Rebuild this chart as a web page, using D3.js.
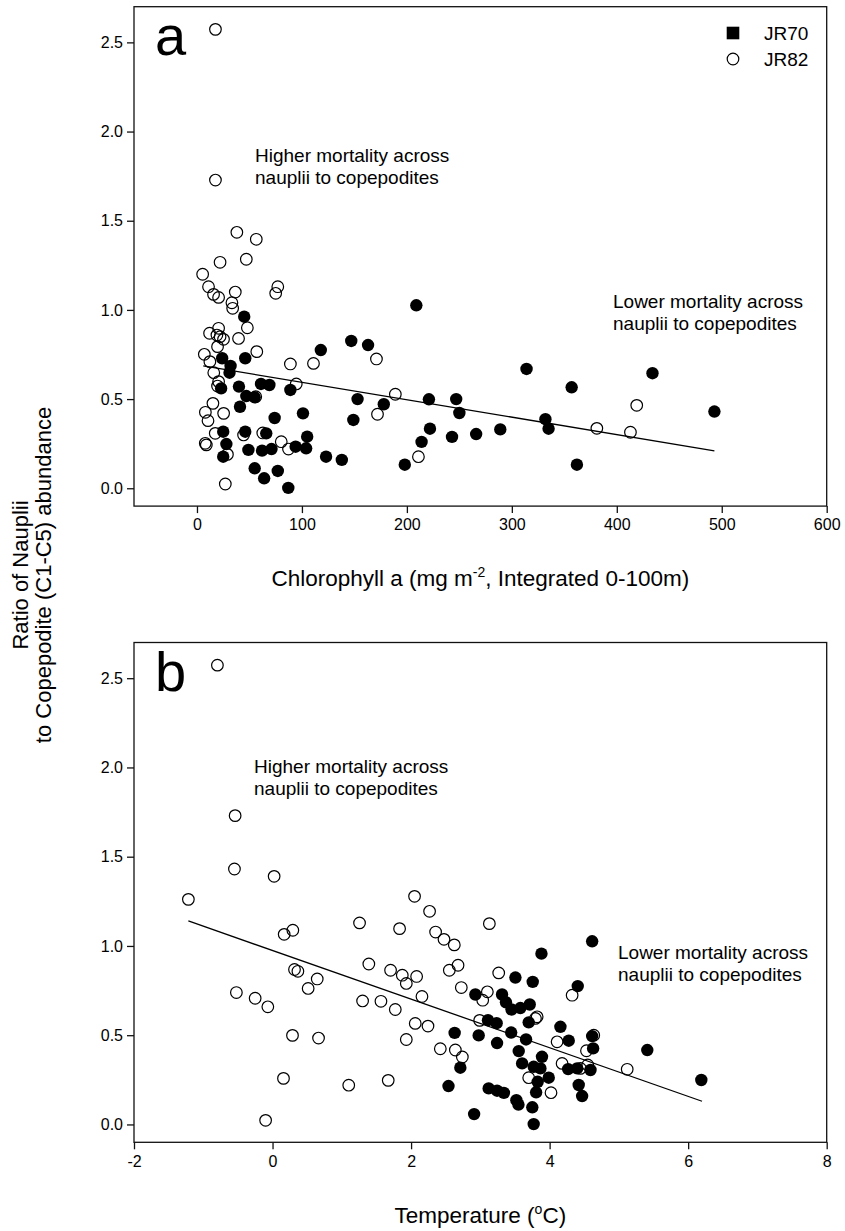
<!DOCTYPE html>
<html>
<head>
<meta charset="utf-8">
<script src="https://cdn.jsdelivr.net/npm/d3@7"></script>
<style>
  body { margin: 0; background: #fff; }
  svg text { font-family: "Liberation Sans", Arial, sans-serif; fill: #000; }
</style>
</head>
<body>
<div id="chart"></div>
<script>
// tick values
const chlTicks = [0, 100, 200, 300, 400, 500, 600];
const tempTicks = [-2, 0, 2, 4, 6, 8];
const ratioTicks = [0, 0.5, 1.0, 1.5, 2.0, 2.5];

// panel a: [chlorophyll a, ratio]
const jr70Chl = [
  [45, 0.962], [24, 0.729], [46, 0.729], [32, 0.686], [31, 0.648], [118, 0.775],
  [147, 0.826], [163, 0.803], [209, 1.026], [314, 0.669], [357, 0.566], [434, 0.645],
  [493, 0.43], [178, 0.471], [221, 0.499], [247, 0.50], [250, 0.422], [222, 0.334],
  [214, 0.26], [198, 0.132], [243, 0.288], [266, 0.304], [289, 0.33], [332, 0.387],
  [335, 0.334], [362, 0.132], [23, 0.56], [40, 0.57], [47, 0.517], [55, 0.51],
  [61, 0.585], [69, 0.579], [89, 0.551], [41, 0.457], [74, 0.394], [101, 0.42],
  [25, 0.317], [28, 0.248], [25, 0.177], [46, 0.317], [66, 0.308], [49, 0.215],
  [62, 0.211], [71, 0.22], [94, 0.233], [104, 0.224], [105, 0.289], [123, 0.177],
  [138, 0.159], [55, 0.112], [64, 0.056], [77, 0.097], [87, 0.002], [153, 0.50],
  [149, 0.383]
];
const jr82Chl = [
  [17.6, 2.573], [17.6, 1.728], [38, 1.435], [56.5, 1.396], [22, 1.267], [47, 1.284],
  [5.4, 1.20], [11, 1.13], [15.8, 1.087], [20.6, 1.07], [36.5, 1.10], [33.3, 1.04],
  [34, 1.009], [77, 1.13], [75, 1.093], [48, 0.90], [20.6, 0.897], [12, 0.869],
  [19, 0.859], [22, 0.85], [25.3, 0.835], [19.6, 0.794], [39.6, 0.84], [57, 0.766],
  [7, 0.751], [12.3, 0.71], [89, 0.697], [111, 0.70], [171, 0.725], [189, 0.527],
  [172, 0.415], [419, 0.465], [211, 0.177], [381, 0.336], [413, 0.314], [16, 0.648],
  [19.6, 0.573], [20.6, 0.598], [56, 0.513], [94.6, 0.585], [15.2, 0.476], [8, 0.426],
  [10.5, 0.379], [25.4, 0.42], [17.4, 0.308], [7.9, 0.252], [8.9, 0.243], [29, 0.19],
  [44.4, 0.299], [62.7, 0.31], [80.3, 0.261], [87.2, 0.22], [27, 0.024]
];
const chlFit = [[6, 0.686], [493, 0.21]];

// panel b: [temperature, ratio]
const jr70Temp = [
  [3.506, 0.823], [2.928, 0.728], [3.313, 0.728], [3.37, 0.684], [3.45, 0.644], [3.578, 0.652],
  [3.713, 0.672], [3.11, 0.584], [3.235, 0.567], [3.445, 0.515], [2.629, 0.513], [2.976, 0.499],
  [3.241, 0.456], [2.711, 0.318], [4.614, 1.026], [3.882, 0.957], [3.756, 0.799], [4.406, 0.775],
  [3.698, 0.572], [3.66, 0.476], [4.156, 0.547], [4.276, 0.469], [4.614, 0.495], [4.628, 0.426],
  [5.41, 0.417], [6.19, 0.249], [3.554, 0.411], [3.603, 0.342], [3.89, 0.379], [3.867, 0.314],
  [3.77, 0.323], [3.987, 0.262], [4.267, 0.31], [4.397, 0.314], [4.59, 0.305], [4.42, 0.221],
  [4.469, 0.159], [3.828, 0.239], [3.12, 0.202], [3.241, 0.189], [3.805, 0.18], [3.34, 0.177],
  [2.54, 0.215], [2.91, 0.058], [3.77, 0.002], [3.75, 0.096], [3.55, 0.111], [3.52, 0.136]
];
const jr82Temp = [
  [-0.796, 2.573], [-0.54, 1.73], [-0.55, 1.431], [0.023, 1.39], [-1.215, 1.261], [0.168, 1.065],
  [0.293, 1.088], [1.256, 1.129], [1.834, 1.097], [2.05, 1.278], [2.267, 1.194], [2.354, 1.078],
  [2.475, 1.037], [2.624, 1.006], [3.13, 1.125], [0.317, 0.868], [0.366, 0.858], [0.645, 0.815],
  [0.514, 0.762], [1.39, 0.899], [1.704, 0.864], [1.873, 0.836], [1.931, 0.79], [2.08, 0.829],
  [2.552, 0.864], [2.678, 0.892], [2.725, 0.767], [2.157, 0.717], [3.265, 0.849], [3.101, 0.743],
  [3.034, 0.696], [-0.522, 0.739], [-0.251, 0.707], [-0.068, 0.659], [1.3, 0.692], [1.565, 0.69],
  [1.772, 0.644], [2.06, 0.566], [2.244, 0.551], [2.99, 0.583], [0.288, 0.499], [0.664, 0.484],
  [1.931, 0.476], [2.422, 0.424], [2.639, 0.417], [2.74, 0.378], [0.158, 0.258], [1.1, 0.22],
  [1.67, 0.247], [-0.1, 0.023], [4.325, 0.724], [3.795, 0.594], [3.82, 0.603], [4.108, 0.463],
  [4.637, 0.5], [4.532, 0.413], [5.12, 0.309], [4.18, 0.342], [4.445, 0.314], [4.55, 0.333],
  [3.698, 0.262], [4.02, 0.178]
];
const tempFit = [[-1.215, 1.14], [6.2, 0.13]];

const W = 845, H = 1231;
const left = 134, right = 826.7;

const svg = d3.select('#chart').append('svg')
  .attr('width', W)
  .attr('height', H);

function panel(opts) {
  const x = d3.scaleLinear().domain(opts.xDomain).range([left, right]);
  const y = d3.scaleLinear().domain([-0.1, 2.7]).range([opts.bottom, opts.top]);
  const g = svg.append('g');

  // frame
  g.append('rect')
    .attr('x', left).attr('y', opts.top)
    .attr('width', right - left).attr('height', opts.bottom - opts.top)
    .attr('fill', 'none').attr('stroke', '#111').attr('stroke-width', 1.3);

  const xAxis = g.append('g')
    .attr('transform', `translate(0,${opts.bottom})`)
    .call(d3.axisBottom(x).tickValues(opts.xTicks).tickSize(7).tickSizeOuter(0).tickPadding(6)
      .tickFormat(d => String(d)));   // plain hyphen minus, like the original
  const yAxis = g.append('g')
    .attr('transform', `translate(${left},0)`)
    .call(d3.axisLeft(y).tickValues(ratioTicks).tickSize(7).tickSizeOuter(0).tickPadding(4)
      .tickFormat(d => d.toFixed(1)));
  [xAxis, yAxis].forEach(a => {
    a.select('.domain').remove();
    a.selectAll('line').attr('stroke', '#111').attr('stroke-width', 1.3);
    a.selectAll('text').style('font-size', '16px').attr('fill', '#000');
  });

  // fit line
  g.append('path')
    .datum(opts.fit)
    .attr('d', d3.line().x(d => x(d[0])).y(d => y(d[1])))
    .attr('fill', 'none').attr('stroke', '#000').attr('stroke-width', 1.3);

  // points
  g.append('g').selectAll('circle').data(opts.open).join('circle')
    .attr('cx', d => x(d[0])).attr('cy', d => y(d[1])).attr('r', 5.8)
    .attr('fill', 'none').attr('stroke', '#000').attr('stroke-width', 1.2);
  g.append('g').selectAll('circle').data(opts.filled).join('circle')
    .attr('cx', d => x(d[0])).attr('cy', d => y(d[1])).attr('r', 6.2)
    .attr('fill', '#000');

  // panel letter
  g.append('text').attr('x', 155).attr('y', opts.top + 48)
    .style('font-size', '56px').text(opts.letter);

  // annotations
  const note = (tx, ty, lines) => {
    const t = g.append('text').attr('x', tx).attr('y', ty).style('font-size', '19px');
    lines.forEach((s, i) => t.append('tspan').attr('x', tx).attr('dy', i ? 22 : 0).text(s));
  };
  note(opts.hi[0], opts.hi[1], ['Higher mortality across', 'nauplii to copepodites']);
  note(opts.lo[0], opts.lo[1], ['Lower mortality across', 'nauplii to copepodites']);

  return { x, y, g };
}

const pa = panel({
  letter: 'a', top: 6.7, bottom: 506.1, xDomain: [-60, 600], xTicks: chlTicks,
  filled: jr70Chl, open: jr82Chl, fit: chlFit,
  hi: [255, 162], lo: [613, 308]
});
const pb = panel({
  letter: 'b', top: 642.5, bottom: 1142.3, xDomain: [-2, 8], xTicks: tempTicks,
  filled: jr70Temp, open: jr82Temp, fit: tempFit,
  hi: [254, 773], lo: [618, 959]
});

// x axis titles
const t1 = svg.append('text').attr('x', (left + right) / 2).attr('y', 586)
  .attr('text-anchor', 'middle').style('font-size', '22.5px');
t1.append('tspan').text('Chlorophyll a (mg m');
t1.append('tspan').attr('dy', -9).style('font-size', '14px').text('-2');
t1.append('tspan').attr('dy', 9).text(', Integrated 0-100m)');

const t2 = svg.append('text').attr('x', (left + right) / 2).attr('y', 1223)
  .attr('text-anchor', 'middle').style('font-size', '22.5px');
t2.append('tspan').text('Temperature (');
t2.append('tspan').attr('dy', -9).style('font-size', '14px').text('o');
t2.append('tspan').attr('dy', 9).text('C)');

// y axis title (shared)
const yt = svg.append('text').attr('transform', 'translate(28,575) rotate(-90)')
  .attr('text-anchor', 'middle').style('font-size', '22px');
yt.append('tspan').attr('x', 0).attr('y', 0).text('Ratio of Nauplii');
yt.append('tspan').attr('x', 0).attr('y', 23).text('to Copepodite (C1-C5) abundance');

// legend
const leg = svg.append('g');
leg.append('rect').attr('x', 733 - 6.3).attr('y', 33 - 6.3).attr('width', 12.6).attr('height', 12.6)
  .attr('fill', '#000');
leg.append('text').attr('x', 764).attr('y', 33).attr('dy', '0.35em').style('font-size', '19px').text('JR70');
leg.append('circle').attr('cx', 733).attr('cy', 59).attr('r', 5.8)
  .attr('fill', 'none').attr('stroke', '#000').attr('stroke-width', 1.2);
leg.append('text').attr('x', 764).attr('y', 59).attr('dy', '0.35em').style('font-size', '19px').text('JR82');
</script>
</body>
</html>
